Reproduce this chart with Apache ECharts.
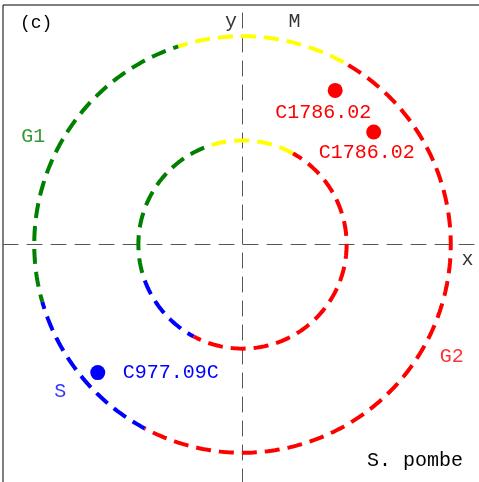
<!DOCTYPE html>
<html>
<head>
<meta charset="utf-8">
<script src="https://cdn.jsdelivr.net/npm/echarts@6/dist/echarts.min.js"></script>
<style>
  html, body { margin: 0; padding: 0; background: #fff; }
  #main { width: 479px; height: 482px; }
</style>
</head>
<body>
<div id="main"></div>
<script>
  // cell-cycle phases, arc boundaries in degrees (counter-clockwise from +x)
  var phaseNames = ['M', 'G1', 'S', 'G2'];
  var phaseStart = [61, 108, 196, 242];
  var phaseEnd = [108, 196, 242, 421];
  var phaseColors = ['#ffff00', '#008000', '#0000ff', '#ff0000'];
  var ringRadii = [1, 2];

  // where the phase names sit
  var phaseLabelX = [0.50, -2.01, -1.75, 2.01];
  var phaseLabelY = [2.14, 1.04, -1.41, -1.08];
  var phaseLabelColors = ['#000000', '#008000', '#0000ff', '#ff0000'];

  // genes
  var geneNames = ['C1786.02', 'C1786.02', 'C977.09C'];
  var geneX = [0.89, 1.26, -1.39];
  var geneY = [1.48, 1.08, -1.23];
  var geneColors = ['#ff0000', '#ff0000', '#0000ff'];
  var geneLabelShift = [[-12, 22], [-7, 21], [73, 0]];

  // axis names
  var axisNames = ['x', 'y'];
  var axisNameX = [2.16, -0.11];
  var axisNameY = [-0.15, 2.14];

  var axisMin = -2.3, axisMax = 2.3;
  var plotSize = 479;
  var pxPerUnit = plotSize / (axisMax - axisMin);
  var font = 'Liberation Mono';

  var chart = echarts.init(document.getElementById('main'));

  var series = [];

  // dashed arcs, one per phase per ring
  ringRadii.forEach(function (r) {
    phaseNames.forEach(function (name, k) {
      var pts = [];
      for (var a = phaseStart[k]; a <= phaseEnd[k]; a += 1) {
        var t = a * Math.PI / 180;
        pts.push([r * Math.cos(t), r * Math.sin(t)]);
      }
      var offset = r * pxPerUnit * (phaseStart[k] - phaseStart[0]) * Math.PI / 180;
      series.push({
        type: 'line',
        name: name,
        data: pts,
        showSymbol: false,
        symbol: 'none',
        silent: true,
        lineStyle: {
          color: phaseColors[k],
          width: 4,
          type: [15, 8],
          dashOffset: offset,
          cap: 'butt'
        }
      });
    });
  });

  // gene dots
  series.push({
    type: 'scatter',
    symbolSize: 15,
    data: geneNames.map(function (g, i) {
      return {
        value: [geneX[i], geneY[i]],
        itemStyle: { color: geneColors[i], opacity: 1 },
        label: {
          show: true,
          formatter: g,
          position: 'inside',
          offset: geneLabelShift[i],
          color: geneColors[i],
          fontFamily: font,
          fontSize: 20
        }
      };
    })
  });

  // phase names and axis names
  var textData = phaseNames.map(function (n, i) {
    return { value: [phaseLabelX[i], phaseLabelY[i]], name: n, color: phaseLabelColors[i] };
  }).concat(axisNames.map(function (n, i) {
    return { value: [axisNameX[i], axisNameY[i]], name: n, color: '#000000' };
  }));

  series.push({
    type: 'scatter',
    symbolSize: 1,
    silent: true,
    itemStyle: { color: 'transparent' },
    data: textData.map(function (d) {
      return {
        value: d.value,
        label: {
          show: true,
          formatter: d.name,
          position: 'inside',
          color: d.color,
          fontFamily: font,
          fontSize: 20
        }
      };
    })
  });

  function axisStyle(dash) {
    return {
      type: 'value',
      min: axisMin,
      max: axisMax,
      axisLine: { show: true, onZero: true, lineStyle: { color: '#555', width: 1, type: dash } },
      axisTick: { show: false },
      axisLabel: { show: false },
      splitLine: { show: false }
    };
  }

  chart.setOption({
    animation: false,
    grid: {
      left: 3,
      top: 5,
      width: plotSize,
      height: plotSize,
      outerBoundsMode: 'none',
      containLabel: false,
      show: true,
      borderColor: '#000',
      borderWidth: 1
    },
    xAxis: axisStyle([15, 9]),
    yAxis: axisStyle([15, 9]),
    graphic: [
      {
        type: 'text', left: 20, top: 14,
        style: { text: '(c)', font: '18px ' + font, fill: '#000' }
      },
      {
        type: 'text', left: 367, top: 451,
        style: { text: 'S. pombe', font: '20px ' + font, fill: '#000' }
      }
    ],
    series: series
  });
</script>
</body>
</html>
